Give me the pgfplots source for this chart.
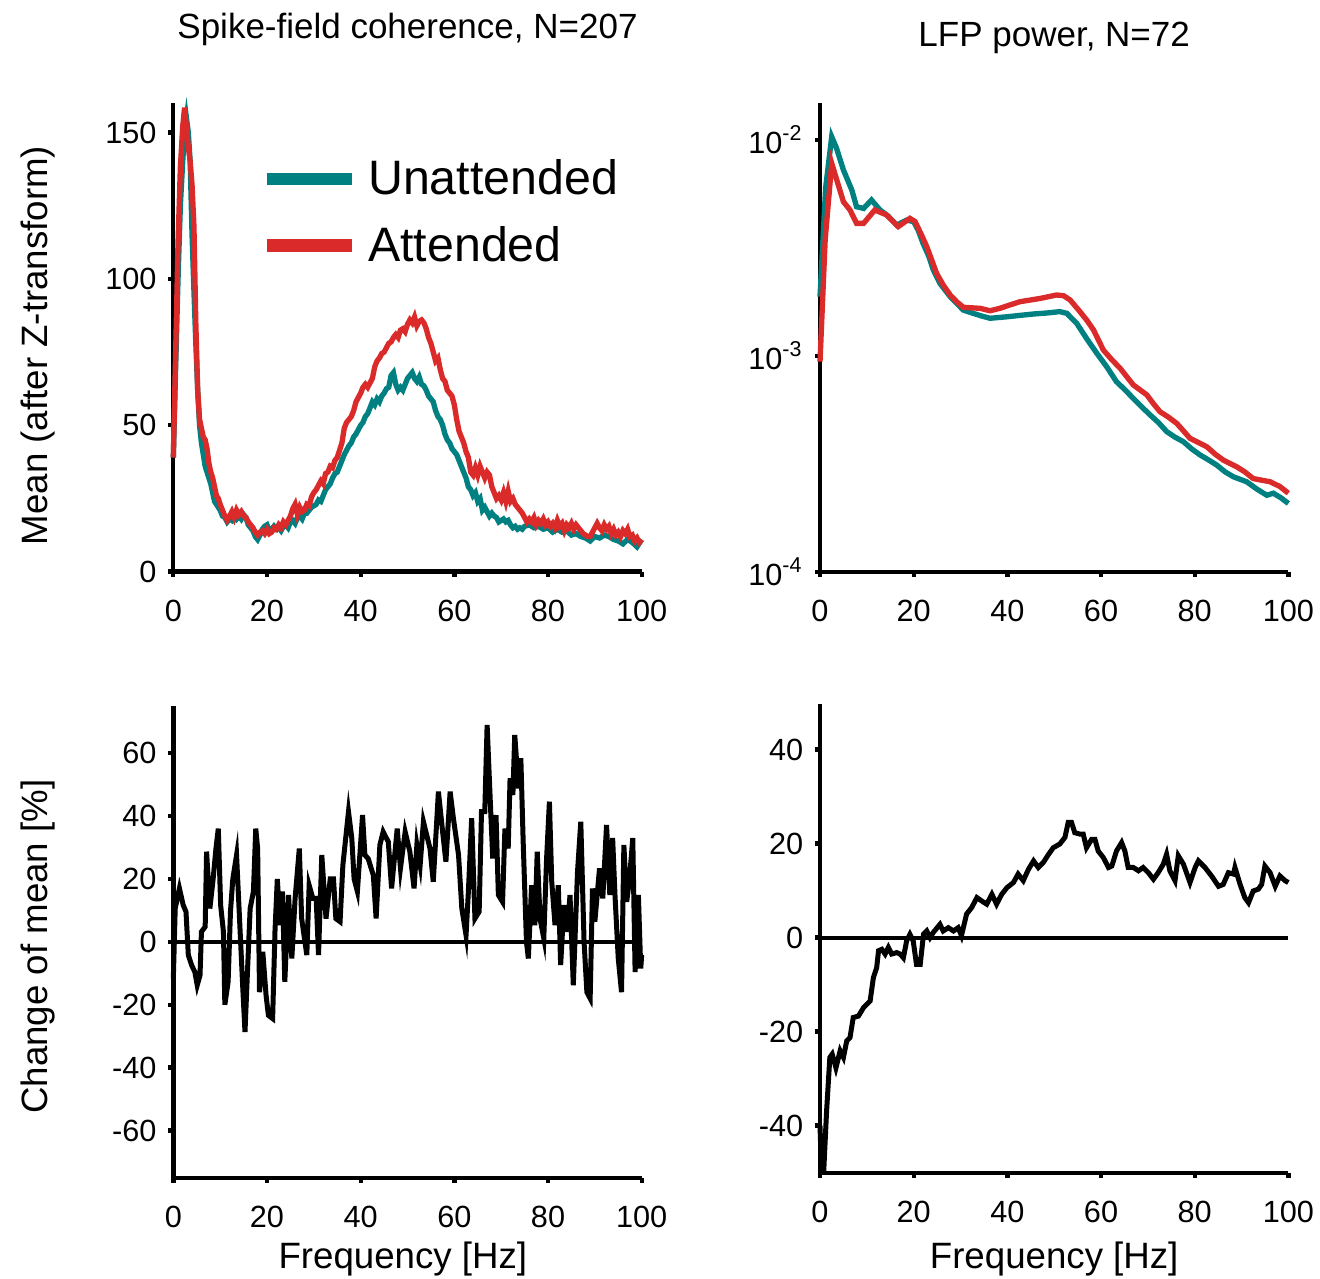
\documentclass[border=0pt]{standalone}
\usepackage{fontspec}
\setmainfont{Liberation Sans}
\usepackage{pgfplots}
\pgfplotsset{compat=1.18}
\definecolor{tealc}{RGB}{0,128,128}
\definecolor{redc}{RGB}{218,42,42}
\pgfplotsset{
  myaxis/.style={
    scale only axis, width=140.5pt, height=140.5pt,
    axis x line=bottom, axis y line=left,
    axis line style={line width=1.3pt, -},
    every tick/.style={line width=1.3pt, black},
    tick align=outside, major tick length=1.5pt, minor tick length=0pt,
    xmin=0, xmax=100, xtick={0,20,...,100},
    tick label style={font=\fontsize{9.2}{11}\selectfont},
    /pgf/number format/assume math mode=true,
    xticklabel style={yshift=-3.5pt},
    clip=false,
    label style={font=\fontsize{11}{13}\selectfont},
    title style={font=\fontsize{10.5}{12}\selectfont, anchor=center},
  }
}
\begin{document}
\begin{tikzpicture}
\useasboundingbox (0pt,0pt) rectangle (396pt,383.4pt);
% ---------------- top left
\begin{axis}[myaxis, at={(52pt,211.9pt)}, anchor=south west,
  ymin=0, ymax=160, ytick={0,50,100,150},
  title={Spike-field coherence, N=207},
  title style={at={(axis description cs:0.5,1.116)}},
  ylabel={Mean (after Z-transform)},
  ylabel style={at={(axis description cs:-0.289,0.483)}, anchor=center},
  legend style={at={(axis description cs:0.185,0.766)}, anchor=west, draw=none, fill=none,
    font=\fontsize{14.5}{17}\selectfont, row sep=8pt, inner sep=0pt,
    nodes={inner sep=0pt}},
  legend cell align=left,
  legend image code/.code={\draw[#1, line width=3.7pt] (0pt,0.2pt) -- (25.5pt,0.2pt); \path (29.6pt,0.2pt);},
]
\addplot[tealc, line width=1.6pt] coordinates {
(0,39) (0.5,70) (1.0,100) (1.5,125) (2.0,140) (2.4,150) (2.8,155) (3.2,150) (3.6,140) (4.0,115)
(4.4,96) (4.8,78) (5.2,62) (5.6,50) (6.0,44) (6.4,40) (6.8,36) (7.2,34) (7.6,32) (8.0,30)
(8.4,27) (8.8,24) (9.2,23) (9.6,22) (10.0,21) (10.5,19) (11.0,18.5) (11.5,17) (12.0,18) (12.5,17.5)
(13.0,19) (13.5,18) (14.0,19) (14.5,18) (15.0,19.5) (15.5,18.5) (16.0,16) (16.5,15) (17.0,14) (17.5,12)
(18.0,11) (18.5,12.5) (19.0,14.5) (19.5,15.5) (20.0,16) (20.5,14) (21.0,14.5) (21.5,15.5) (22.0,14.5) (22.5,15)
(23.0,14) (23.5,15.5) (24.0,16) (24.5,15) (25.0,17) (25.5,17.5) (26.0,16.5) (26.5,18.5) (27.0,19) (27.5,18)
(28.0,20) (28.5,20) (29.0,21) (29.5,22) (30.0,22.5) (30.5,23) (31.0,24.5) (31.5,24) (32.0,26) (32.5,28)
(33.0,29) (33.5,30) (34.0,32) (34.5,33.5) (35.0,34) (35.5,36) (36.0,38) (36.5,40) (37.0,41.5) (37.5,43)
(38.0,44) (38.5,46) (39.0,47) (39.5,48.5) (40.0,50) (40.5,51) (41.0,53) (41.5,54) (42.0,56) (42.5,58)
(43.0,57) (43.5,59) (44.0,58) (44.5,60) (45.0,61) (45.5,62.5) (46.0,63) (46.5,67) (47.0,68) (47.5,64)
(48.0,62) (48.5,63) (49.0,62) (49.5,64) (50.0,66) (50.5,67) (51.0,68) (51.5,66) (52.0,65) (52.5,66.5)
(53.0,64) (53.5,63.5) (54.0,62) (54.5,60) (55.0,59) (55.5,58) (56.0,55) (56.5,53) (57.0,52) (57.5,50)
(58.0,47) (58.5,45) (59.0,44) (59.5,42) (60.0,41) (60.5,40) (61.0,38) (61.5,36) (62.0,34) (62.5,32)
(63.0,29) (63.5,28) (64.0,26) (64.5,27) (65.0,24) (65.5,25) (66.0,21) (66.5,22) (67.0,20.5) (67.5,19)
(68.0,20) (68.5,19) (69.0,18.5) (69.5,17) (70.0,17.5) (70.5,18) (71.0,17) (71.5,17.5) (72.0,16) (72.5,15)
(73.0,15.5) (73.5,14.5) (74.0,15) (74.5,14.5) (75.0,15.5) (76.0,16) (77.0,15) (78.0,15.5) (79.0,14.5) (80.0,15)
(81.0,13.5) (82.0,14.5) (83.0,13.5) (84.0,14) (85.0,12.5) (86.0,13) (87.0,12) (88.0,11.5) (89.0,10.5) (90.0,12)
(91.0,11.5) (92.0,12.5) (93.0,12) (94.0,11) (95.0,10.5) (96.0,9.5) (97.0,11) (98.0,10) (99.0,8.5) (100,11)
};
\addlegendentry{Unattended}
\addplot[redc, line width=1.6pt] coordinates {
(0,39) (0.5,75) (1.0,112) (1.5,138) (2.0,152) (2.4,158.5) (2.8,152) (3.2,145) (3.6,140) (4.0,132)
(4.4,118) (4.8,85) (5.2,62) (5.6,52) (6.0,49) (6.4,46) (6.8,45) (7.2,42) (7.6,37) (8.0,34)
(8.4,32) (8.8,29) (9.2,26) (9.6,25) (10.0,23) (10.5,21) (11.0,19) (11.5,17.6) (12.0,19) (12.5,20.5)
(13.0,18.5) (13.5,21) (14.0,19.5) (14.5,20.5) (15.0,19) (15.5,18.5) (16.0,17) (16.5,16) (17.0,15) (17.5,13.5)
(18.0,12.5) (18.5,13.5) (19.0,14) (19.5,13) (20.0,14.5) (20.5,13) (21.0,13.5) (21.5,15) (22.0,14.5) (22.5,16)
(23.0,15) (23.5,17) (24.0,16) (24.5,17.5) (25.0,19) (25.5,21.5) (26.0,23) (26.5,19.5) (27.0,22) (27.5,20.5)
(28.0,21) (28.5,23) (29.0,22.5) (29.5,25.5) (30.0,27) (30.5,28) (31.0,29.5) (31.5,31) (32.0,30) (32.5,33.5)
(33.0,34) (33.5,36) (34.0,35.5) (34.5,38) (35.0,39) (35.5,41.5) (36.0,44) (36.5,49) (37.0,51) (37.5,52)
(38.0,53) (38.5,55) (39.0,58) (39.5,59.5) (40.0,61) (40.5,63) (41.0,64) (41.5,63) (42.0,64.5) (42.5,66)
(43.0,70) (43.5,72) (44.0,73) (44.5,74.5) (45.0,75) (45.5,76.5) (46.0,78) (46.5,78.5) (47.0,80) (47.5,81)
(48.0,80) (48.5,82.5) (49.0,83) (49.5,82) (50.0,84.5) (50.5,86) (51.0,85) (51.5,87) (52.0,84) (52.5,85.5)
(53.0,86) (53.5,85) (54.0,83) (54.5,80) (55.0,78) (55.5,75) (56.0,72) (56.5,73) (57.0,69) (57.5,66)
(58.0,65) (58.5,62) (59.0,61) (59.5,60) (60.0,57) (60.5,52) (61.0,48) (61.5,46) (62.0,44) (62.5,41)
(63.0,39) (63.5,34) (64.0,33) (64.5,35.5) (65.0,33) (65.5,36) (66.0,34) (66.5,32) (67.0,34) (67.5,33)
(68.0,29) (68.5,27) (69.0,25) (69.5,26) (70.0,24.5) (70.5,27) (71.0,24) (71.5,27.5) (72.0,24) (72.5,25)
(73.0,23) (73.5,22) (74.0,21) (74.5,20) (75.0,18.5) (75.5,17) (76.0,18) (76.5,17) (77.0,18.5) (77.5,16)
(78.0,17.5) (78.5,16.5) (79.0,18) (79.5,16) (80.0,17) (80.5,15.5) (81.0,16.5) (81.5,15) (82.0,17.5) (82.5,15.5)
(83.0,16.5) (83.5,14) (84.0,16) (84.5,15) (85.0,16.5) (85.5,14.5) (86.0,16) (86.5,15) (87.0,14) (87.5,13)
(88.0,12.5) (88.5,12) (89.0,12) (89.5,13.5) (90.0,15) (90.5,16.5) (91.0,15) (91.5,14) (92.0,16) (92.5,14.5)
(93.0,15.5) (93.5,13) (94.0,14.5) (94.5,12.5) (95.0,13.5) (95.5,12) (96.0,14) (96.5,13) (97.0,14.5) (97.5,12)
(98.0,12.5) (98.5,10.5) (99.0,11.5) (99.5,10) (100,11)
};
\addlegendentry{Attended}
\end{axis}
% ---------------- top right
\begin{axis}[myaxis, at={(246pt,211.9pt)}, anchor=south west,
  ymode=log, ymin=1e-4, ymax=0.01479,
  ytick={1e-4,1e-3,1e-2},
  yticklabels={10\textsuperscript{-4},10\textsuperscript{-3},10\textsuperscript{-2}},
  title={LFP power, N=72},
  title style={at={(axis description cs:0.5,1.097)}},
]
\addplot[tealc, line width=1.6pt] coordinates {
(0,0.001879) (1.2,0.00600) (2.5,0.01035) (3.5,0.00920) (5,0.007261) (6.8,0.005861) (7.8,0.004909) (9.3,0.004819) (11,0.005272)
(12.8,0.004742) (14.5,0.004450) (16.4,0.004036) (18.5,0.004256) (20,0.004188) (21,0.00380) (22,0.003319) (23.2,0.00290) (24.2,0.002500) (25.6,0.002168)
(27.8,0.001879) (29.2,0.00175) (30.6,0.001629) (32.7,0.001574) (34.5,0.00153) (36.3,0.001493) (39.9,0.001517) (42.7,0.00154) (45.6,0.001563)
(48.5,0.00158) (51.2,0.001603) (52.7,0.001574) (54.8,0.001416) (56.9,0.001205) (59.1,0.001028) (61.2,0.000891)
(63.3,0.000759) (65,0.00070) (66.9,0.000635) (68.7,0.00058) (70.5,0.000532) (72.3,0.00049) (74,0.000446) (75.8,0.00042) (77.6,0.000400) (79.4,0.00037) (81.1,0.000348)
(82.9,0.00033) (84.7,0.000312) (86.5,0.00029) (88.3,0.000275) (91.1,0.000261) (93.2,0.000242) (95.4,0.000226) (96.8,0.000231) (98.4,0.000220) (100,0.000207)
};
\addplot[redc, line width=1.6pt] coordinates {
(0,0.000940) (1.1,0.003443) (2.5,0.007798) (3.7,0.00640) (5,0.005176) (6.4,0.004742) (7.8,0.004111) (9.3,0.004111)
(11.7,0.004742) (14.2,0.004498) (16.7,0.003972) (19.2,0.004335) (20.3,0.004188) (21.5,0.00370) (22.8,0.003206)
(24.9,0.002410) (26.3,0.00213) (27.8,0.001914) (29.2,0.00178) (30.6,0.001679) (34.2,0.001660) (36.3,0.001618) (38.4,0.001660)
(40.5,0.00172) (42.7,0.001782) (47,0.001845) (50.5,0.001914) (52,0.00190) (53.4,0.001816) (55.5,0.001603) (57,0.00146) (58.4,0.001318)
(60.5,0.001064) (62.3,0.00096) (64.1,0.000875) (66.9,0.000733) (69.8,0.000659) (71.2,0.00060) (72.6,0.000551) (74.4,0.00052) (76.2,0.000486)
(79,0.000415) (82.6,0.000379) (84.4,0.00035) (86.1,0.000329) (89,0.000306) (90.7,0.00029) (92.5,0.000270) (96.1,0.000261)
(98.2,0.000248) (100,0.000231)
};
\end{axis}
% ---------------- bottom left
\begin{axis}[myaxis, at={(52pt,30.1pt)}, anchor=south west, height=141.5pt,
  ymin=-75, ymax=75, ytick={-60,-40,...,60},
  xlabel={Frequency [Hz]},
  xlabel style={at={(axis description cs:0.49,-0.172)}, anchor=center},
  ylabel={Change of mean [\%]},
  ylabel style={at={(axis description cs:-0.289,0.49)}, anchor=center},
]
\addplot[black, line width=1.2pt] coordinates {(0,0) (100,0)};
\addplot[black, line width=1.5pt] coordinates {
(0,-11.7) (0.4,10.6) (1.3,17) (2.1,11.7) (2.7,9.6) (3.2,-4.2) (3.9,-7.4) (4.6,-9.6) (5.1,-13.8) (5.7,-10.6)
(6.0,3.2) (6.8,4.8) (7.1,28.7) (7.8,10.6) (8.5,20) (9.1,29.7) (9.6,36) (10.1,11.7) (10.7,3.2) (11.0,-20)
(11.7,-12.7) (12.2,9.6) (12.7,20) (13.5,27.6) (14.2,5.3) (14.8,-13.8) (15.3,-28.7) (15.8,-10.6) (16.4,10.6) (17.1,16)
(17.6,36) (18.0,29.7) (18.4,-16) (19.1,-3.2) (19.8,-17) (20.3,-23.4) (21.2,-24.4) (21.7,3.2) (22.2,20) (22.8,5.3)
(23.3,16) (23.8,-12.7) (24.6,14.9) (25.3,-5.3) (26.0,13.8) (26.9,29.7) (27.4,7.4) (28.5,-4.2) (29.0,18) (29.8,13.8)
(30.5,13.8) (31.0,-4.2) (31.7,27.6) (32.6,7.4) (33.5,20) (34.2,20) (34.7,7.4) (35.6,6.4) (36.2,24.4) (37.4,41.4)
(38.1,33) (38.6,20) (39.3,16) (40.4,40.3) (40.9,27.6) (41.6,26.5) (42.7,21.2) (43.3,7.4) (44.1,30.8) (44.8,35)
(45.9,31.8) (46.6,17) (47.8,36) (48.5,23.4) (49.5,35) (50.5,28.7) (51.4,17) (52.0,30.8) (52.7,24.4) (53.4,38.2)
(54.1,34) (54.8,29.7) (55.5,19.1) (56.6,47.8) (57.5,35) (58.2,25.5) (59.1,47.8) (59.8,39.3) (60.9,27.6) (61.6,10.6)
(62.5,2.1) (63.0,16) (63.7,39.3) (64.4,7.4) (65.3,9.6) (65.8,41.4) (66.5,41.4) (67.0,69) (67.8,40.3) (68.2,26.5)
(68.9,40.3) (69.4,14.9) (70.3,12.7) (70.8,36) (71.5,29.7) (71.9,52) (72.5,46.7) (72.9,65.8) (73.7,48.8) (74.2,58.4)
(74.7,31.8) (75.4,0) (75.8,-5.3) (76.5,18) (77.2,5.3) (77.7,28.7) (78.3,7.4) (79.1,1.1) (79.7,26.5) (80.3,44.6)
(80.8,19.1) (81.5,5.3) (82.2,18) (82.7,-7.4) (83.4,11.7) (84.1,3.2) (84.7,14.9) (85.4,-13.8) (86.3,22.3) (87.0,38.2)
(87.7,0) (88.3,-16) (89.0,-18) (89.5,17) (90.0,6.4) (91.0,23.4) (91.7,13.8) (92.5,37.2) (93.2,14.9) (93.8,33)
(94.3,14.9) (95.0,-5.3) (95.7,-16) (96.2,30.8) (96.8,12.7) (97.4,20) (98.1,33) (98.6,-9.6) (99.3,14.9) (99.8,-8.5)
(100,-4.2)
};
\end{axis}
% ---------------- bottom right
\begin{axis}[myaxis, at={(246pt,31.6pt)}, anchor=south west,
  ymin=-50, ymax=49.6, ytick={-40,-20,...,40},
  xlabel={Frequency [Hz]},
  xlabel style={at={(axis description cs:0.5,-0.184)}, anchor=center},
]
\addplot[black, line width=1.2pt] coordinates {(0,0) (100,0)};
\addplot[black, line width=1.5pt] coordinates {
(0,-40) (0.3,-49.6) (0.8,-49.6) (1.4,-37) (2.1,-25.5) (2.6,-24.8) (3.4,-27.7) (4.3,-24.1) (5,-25.5) (5.7,-22)
(6.4,-21.3) (7.1,-17) (8.2,-16.7) (9.3,-14.9) (10.7,-13.5) (11.4,-8.5) (12.1,-6.4) (12.5,-2.8) (13.2,-2.5) (13.9,-3.5)
(14.6,-2.1) (15.3,-3.5) (16.4,-3.2) (17.1,-3.5) (17.8,-4.3) (18.5,-0.7) (19.2,0.7) (19.9,-0.7) (20.6,-5.7) (21.4,-5.7)
(22.1,0.7) (22.8,1.4) (23.5,0) (24.2,1.1) (25.6,2.8) (26.3,1.4) (27.4,2.1) (28.5,1.4) (29.5,2.1) (30.2,0.4)
(31.3,5) (32.4,6.4) (33.5,8.5) (34.5,7.8) (35.6,7.1) (36.7,9.2) (37.7,7.1) (38.8,9.2) (39.9,10.6) (41.3,11.7)
(42.3,13.5) (43.4,12.1) (44.5,14.5) (45.6,16.3) (46.6,14.9) (47.7,16) (48.8,17.7) (49.8,19.1) (51.2,19.9) (52.3,21.3)
(53,24.5) (53.7,24.5) (54.4,22.3) (55.5,22) (56.2,22) (56.9,19.1) (58,20.9) (58.7,20.9) (59.4,18.4) (60.5,17)
(61.6,14.9) (62.3,15.2) (63.3,18.4) (64.4,20.2) (65.1,18.4) (65.8,14.9) (66.9,14.9) (68,14.2) (69,14.9) (70.1,13.8)
(71.2,12.4) (72.2,13.8) (73.3,15.6) (74,17.7) (74.7,14.2) (75.8,12.1) (76.5,17.4) (77.6,15.6) (79,11.7) (80.1,14.9)
(80.8,16.3) (82.2,14.9) (83.6,13.1) (85.1,10.9) (86.1,11.3) (87.2,13.8) (88.3,13.5) (88.6,14.9) (89.7,11.3) (90.7,8.5)
(91.5,7.4) (92.5,9.9) (93.6,10.3) (94.3,11.3) (95,15.2) (96.1,13.8) (97.2,10.9) (98.2,13.1) (99.3,12.1) (100,11.7)
};
\end{axis}
\end{tikzpicture}
\end{document}
